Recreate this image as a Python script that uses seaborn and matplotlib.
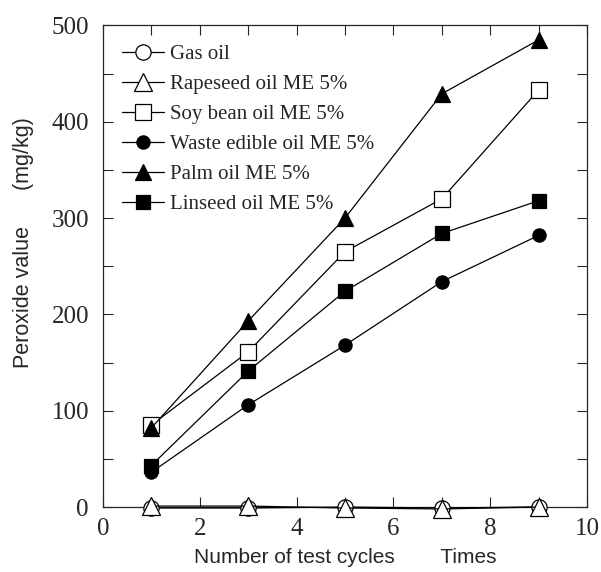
import matplotlib
matplotlib.use('Agg')
import matplotlib.pyplot as plt
import seaborn as sns
import pandas as pd
from matplotlib.ticker import MultipleLocator

# data
cycles = [1, 3, 5, 7, 9]
gas_oil = [-1, -1, 0, -1, 0]
rapeseed = [1, 1, -1, -2, 0]
soy_bean = [85, 161, 265, 320, 433]
waste_edible = [36, 106, 168, 234, 282]
palm = [82, 193, 300, 429, 485]
linseed = [43, 141, 224, 284, 318]

labels = ['Gas oil', 'Rapeseed oil ME 5%', 'Soy bean oil ME 5%',
          'Waste edible oil ME 5%', 'Palm oil ME 5%', 'Linseed oil ME 5%']
series = [gas_oil, rapeseed, soy_bean, waste_edible, palm, linseed]
markers = ['o', '^', 's', 'o', '^', 's']
filled = [False, False, False, True, True, True]
msizes = [11, 13, 11, 9.5, 11, 10.5]

sns.set_style('ticks')
plt.rcParams['font.family'] = ['Liberation Serif', 'DejaVu Serif']

fig = plt.figure(figsize=(6.01, 5.72), dpi=100)
ax = fig.add_axes([0.171, 0.1136, 0.806, 0.842])

for lab, vals, m, f, ms in zip(labels, series, markers, filled, msizes):
    df = pd.DataFrame({'x': cycles, 'y': vals})
    sns.lineplot(data=df, x='x', y='y', ax=ax, color='black', linewidth=0.9,
                 marker=m, markersize=ms, markeredgecolor='black',
                 markeredgewidth=0.9,
                 markerfacecolor='black' if f else 'white',
                 label=lab, clip_on=False, zorder=3)

ax.set_xlim(0, 10)
ax.set_ylim(0, 500)
ax.xaxis.set_major_locator(MultipleLocator(2))
ax.xaxis.set_minor_locator(MultipleLocator(1))
ax.yaxis.set_major_locator(MultipleLocator(100))
ax.yaxis.set_minor_locator(MultipleLocator(50))
ax.tick_params(which='both', direction='in', top=True, right=True,
               length=7, width=0.8, labelsize=18)
ax.tick_params(axis='y', pad=10)
ax.tick_params(axis='x', pad=8)
for s in ax.spines.values():
    s.set_linewidth(0.9)

ax.set_xlabel('Number of test cycles        Times', fontsize=15,
              family='Liberation Sans', labelpad=6)
ax.set_ylabel('Peroxide value      (mg/kg)', fontsize=15.5,
              family='Liberation Sans')
ax.yaxis.set_label_coords(-0.142, 0.55)

leg = ax.legend(loc='upper left', frameon=False, fontsize=15,
                handlelength=2.0, handletextpad=0.3, labelspacing=0.5,
                borderaxespad=0.3, bbox_to_anchor=(0.01, 0.99))

fig.savefig('out.png', dpi=100)
